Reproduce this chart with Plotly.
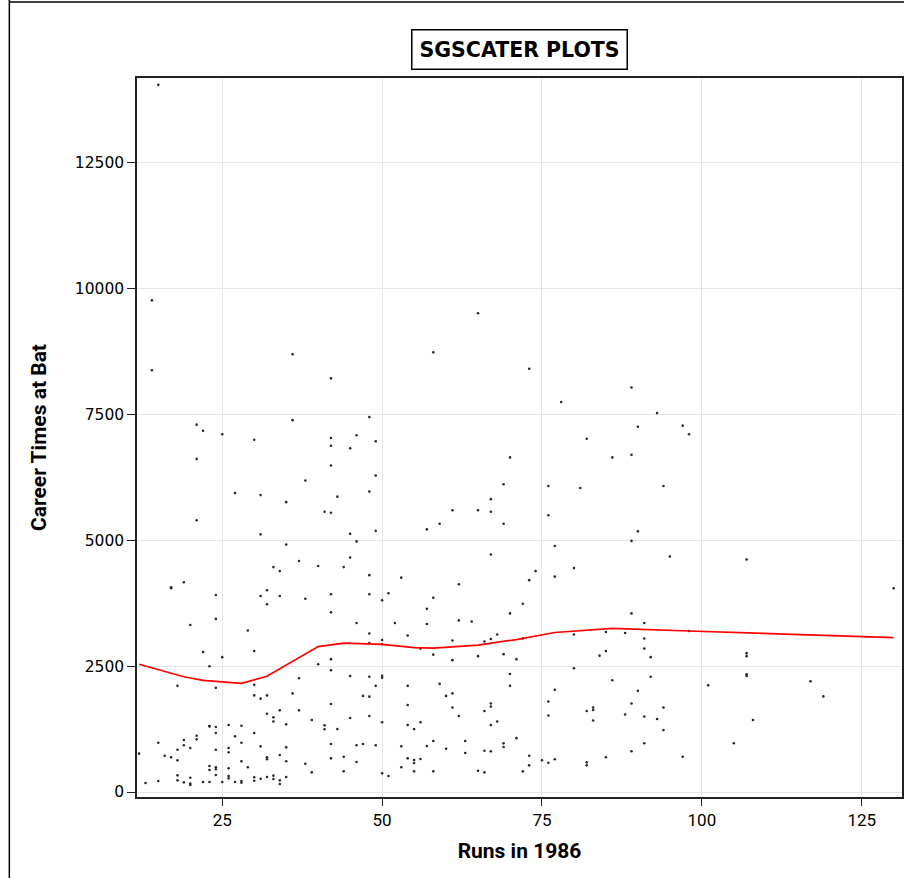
import plotly.graph_objects as go

# Runs in 1986 (x) and Career Times at Bat (y)
runs = [15, 14, 65,
        14, 36, 21, 22, 25, 36, 30, 21, 38, 27, 31, 35, 41, 21, 31, 35,
        42, 58, 48, 42, 46, 49, 42, 45, 42, 49, 48, 43, 42, 45, 49, 46, 45,
        70, 69, 67, 61, 65, 67, 69, 59, 57, 67,
        73, 89, 78, 93, 90, 97, 98, 82, 86, 89, 76, 81, 94, 76, 90, 89, 77, 95, 107,
        17, 17, 19, 24, 24, 20, 22, 23, 25, 18, 24, 29, 30, 33, 34, 31, 32, 34, 32,
        37, 40, 38, 40, 37, 30, 36, 30, 31, 32, 32, 33, 33, 34, 37, 35, 39, 41, 41,
        23, 23, 24, 21, 21, 24, 26, 28, 27, 30, 28, 19, 19, 18, 20, 15, 12, 16, 17,
        18, 24, 26, 26, 31, 32, 32, 34, 35, 35, 28, 29, 38, 39, 23, 23, 24, 24, 24,
        26, 26, 26, 18, 18, 19, 20, 20, 20, 13, 15, 22, 23, 25, 27, 28, 28, 30, 30,
        31, 32, 33, 33, 34, 34, 35,
        44, 48, 53, 42, 48, 51, 50, 62, 58, 42, 57, 46, 52, 57, 62, 64, 70, 54, 48,
        68, 67, 66, 61, 50, 48, 50, 56, 58, 65, 69, 71, 61, 42, 42, 45, 48, 50, 50,
        49, 54, 59, 70, 70, 60, 61, 47, 48, 42, 54, 61, 62, 67, 67, 66, 45, 48, 50,
        54, 56, 55, 67, 68, 71, 43, 42, 46, 47, 49, 53, 57, 58, 63, 60, 63, 66, 67,
        69, 69, 42, 44, 46, 54, 55, 55, 56, 53, 44, 50, 51, 55, 58, 65, 66,
        74, 73, 77, 80, 72, 89, 91, 72, 80, 85, 88, 91, 98, 84, 85, 91, 92, 80, 86,
        92, 77, 90, 101, 76, 89, 94, 76, 82, 83, 83, 83, 88, 91, 93, 94, 91, 89, 85,
        97, 73, 73, 72, 75, 76, 77, 82, 82,
        130, 107, 107, 107, 107, 117, 119, 108, 105]

career_at_bat = [14053, 9770, 9515,
        8380, 8700, 7300, 7180, 7110, 7390, 7000, 6620, 6190, 5940, 5900, 5760, 5570, 5400, 5120, 4920,
        8220, 8740, 7450, 7035, 7090, 6970, 6880, 6830, 6490, 6290, 5970, 5870, 5550, 5130, 5190, 4980, 4660,
        6650, 6115, 5820, 5600, 5600, 5570, 5330, 5330, 5220, 4720,
        8410, 8040, 7750, 7530, 7260, 7280, 7110, 7020, 6650, 6700, 6080, 6040, 6080, 5500, 5180, 4990, 4890, 4680, 4620,
        4070, 4050, 4170, 3915, 3440, 3320, 2780, 2500, 2680, 2110, 2070, 3210, 2800, 4470, 4390, 3895, 4010, 3895, 3730,
        4590, 4490, 3840, 2540, 2260, 2130, 1960, 1920, 1855, 1920, 1556, 1484, 1400, 1623, 1623, 1345, 1431, 1325, 1246,
        1305, 1310, 1292, 1119, 1047, 1172, 1331, 1318, 1107, 1172, 980, 1033, 928, 841, 874, 980, 762, 722, 689,
        629, 841, 874, 789, 908, 689, 650, 735, 888, 610, 610, 491, 562, 391, 517, 437, 491, 451, 338,
        471, 318, 272, 331, 232, 192, 285, 166, 140, 179, 219, 199, 199, 199, 199, 219, 185, 292, 225,
        265, 298, 325, 258, 232, 159, 298,
        4470, 4310, 4260, 3930, 3930, 3950, 3810, 4130, 3860, 3570, 3640, 3360, 3360, 3340, 3410, 3390, 3550, 3110, 3150,
        3130, 3040, 2990, 3010, 3020, 2960, 2935, 2850, 2730, 2700, 2740, 2640, 2620, 2640, 2420, 2305, 2290, 2310, 2270,
        2110, 2110, 2150, 2345, 2110, 1910, 1960, 1910, 1895, 1750, 1730, 1680, 1510, 1760, 1700, 1610, 1470, 1510, 1385,
        1330, 1385, 1250, 1330, 1400, 1070, 1250, 954, 928, 954, 928, 908, 915, 1014, 1014, 861, 775, 821, 808,
        967, 894, 669, 702, 596, 669, 636, 576, 656, 491, 411, 371, 318, 411, 411, 424, 391,
        4390, 4210, 4280, 4450, 3740, 3550, 3360, 3050, 3130, 3180, 3160, 3050, 3200, 2710, 2800, 2850, 2680, 2460, 2220,
        2290, 2030, 2010, 2120, 1800, 1760, 1680, 1520, 1610, 1680, 1630, 1420, 1540, 1500, 1450, 1230, 970, 810, 690,
        700, 720, 530, 410, 630, 583, 650, 590, 530,
        4050, 2760, 2700, 2340, 2305, 2200, 1900, 1430, 970]

# Loess fit curve
loess_x = [12, 19, 22, 25, 28, 32, 40, 44, 50, 55, 58, 65, 71, 77, 86, 98, 130]
loess_y = [2540, 2290, 2220, 2190, 2160, 2300, 2890, 2960, 2935, 2870, 2860, 2920, 3030, 3170, 3250, 3200, 3070]

x_ticks = [25, 50, 75, 100, 125]
y_ticks = [0, 2500, 5000, 7500, 10000, 12500]

fig = go.Figure()
fig.add_trace(go.Scatter(
    x=runs, y=career_at_bat, mode="markers",
    marker=dict(symbol="circle", size=2.6, color="#2a2a2a", line=dict(width=0)),
    hoverinfo="x+y", showlegend=False))
fig.add_trace(go.Scatter(
    x=loess_x, y=loess_y, mode="lines",
    line=dict(color="#ff0000", width=1.7), showlegend=False))

L, R, T, B = 137, 2, 78, 81
W, H = 906, 878
pw, ph = W - L - R, H - T - B

def px(xp):
    return (xp - L) / pw

def py(yp):
    return (H - B - yp) / ph

fig.update_layout(
    width=W, height=H, autosize=False,
    margin=dict(l=L, r=R, t=T, b=B, pad=0),
    paper_bgcolor="white", plot_bgcolor="white",
    font=dict(family="DejaVu Sans", color="black"),
    xaxis=dict(
        range=[11.67, 131.3], tickvals=x_ticks, ticktext=[str(v) for v in x_ticks],
        showgrid=True, gridcolor="#e6e6e6", gridwidth=1, zeroline=False,
        showline=True, linecolor="#222222", linewidth=1.5, mirror=True,
        ticks="outside", ticklen=7, tickcolor="#222222", tickwidth=1,
        tickfont=dict(family="Roboto", size=17, color="black"),
        title=dict(text="<b>Runs in 1986</b>", font=dict(family="Roboto", size=21, color="black"), standoff=14),
    ),
    yaxis=dict(
        range=[-99, 14189], tickvals=y_ticks, ticktext=[str(v) for v in y_ticks],
        showgrid=True, gridcolor="#e6e6e6", gridwidth=1, zeroline=False,
        showline=True, linecolor="#222222", linewidth=1.5, mirror=True,
        ticks="outside", ticklen=8, tickcolor="#222222", tickwidth=1,
        tickfont=dict(family="DejaVu Sans", size=15.5, color="black"),
        title=dict(text="<b>Career Times at Bat</b>", font=dict(family="Roboto", size=21, color="black"), standoff=22),
    ),
    annotations=[dict(
        text="<b>SGSCATER PLOTS</b>", xref="paper", yref="paper",
        x=px(520), y=py(49), xanchor="center", yanchor="middle", showarrow=False,
        font=dict(family="DejaVu Sans", size=20.5, color="black"),
        bordercolor="black", borderwidth=1.5, borderpad=7, bgcolor="white")],
    shapes=[
        dict(type="line", xref="paper", yref="paper", x0=px(9), x1=px(9), y0=py(0), y1=py(H),
             line=dict(color="black", width=1.5)),
        dict(type="line", xref="paper", yref="paper", x0=px(9), x1=px(W), y0=py(2), y1=py(2),
             line=dict(color="black", width=1.5)),
    ],
)

fig.write_html("out.html")
